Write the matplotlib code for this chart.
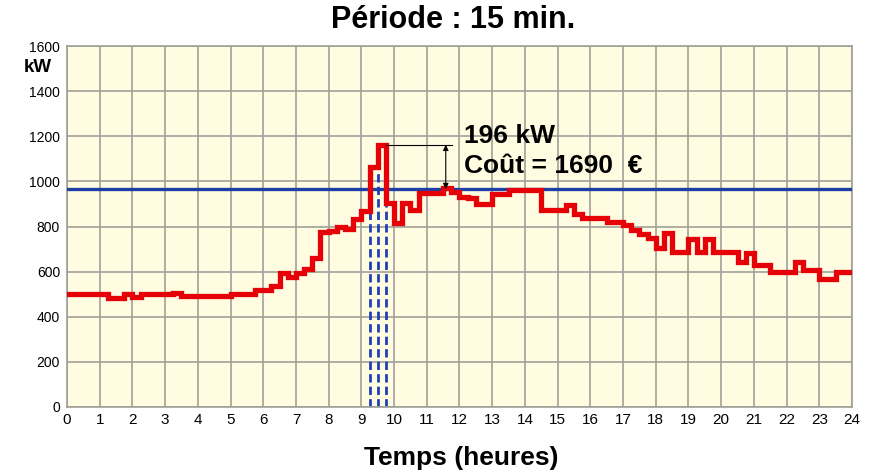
import numpy as np
import matplotlib
matplotlib.use("Agg")
import matplotlib.pyplot as plt

plt.rcParams['font.family'] = ['Liberation Sans', 'DejaVu Sans']

# ---- data (15-minute demand, kW) ----
hours_ticks = list(range(0, 25))
kw_ticks = list(range(0, 1601, 200))

power_kw = [
    500, 500, 500, 500, 500, 485, 485, 500,   # 0.00 - 2.00
    488, 500, 500, 500, 500, 507, 490, 490,   # 2.00 - 4.00
    490, 490, 490, 490, 500, 500, 500, 518,   # 4.00 - 6.00
    518, 536, 594, 576, 592, 610, 660, 775,   # 6.00 - 8.00
    782, 800, 790, 835, 870, 1064, 1162, 905,  # 8.00 - 10.00
    815, 905, 875, 950, 950, 950, 972, 955,   # 10.00 - 12.00
    931, 926, 898, 898, 944, 944, 962, 962,   # 12.00 - 14.00
    962, 962, 875, 875, 875, 895, 855, 838,   # 14.00 - 16.00
    838, 838, 820, 820, 807, 785, 767, 750,   # 16.00 - 18.00
    705, 770, 685, 685, 745, 687, 745, 685,   # 18.00 - 20.00
    685, 685, 643, 683, 630, 630, 600, 600,   # 20.00 - 22.00
    600, 643, 607, 607, 567, 567, 598, 598,   # 22.00 - 24.00
]
subscribed_kw = 966
peak_kw = 1162
excess_kw = 196
cost_eur = 1690
overrun_bounds_h = [9.25, 9.5, 9.75]

# ---- figure ----
fig = plt.figure(figsize=(8.77, 4.72), dpi=100)
ax = fig.add_axes([67/877, 1-407/472, (852-67)/877, (407-46)/472])
ax.set_facecolor('#FFFCE1')

t = np.arange(len(power_kw) + 1) * 0.25
v = np.append(power_kw, power_kw[-1])

ax.set_xlim(0, 24)
ax.set_ylim(0, 1600)
ax.set_xticks(hours_ticks)
ax.set_yticks(kw_ticks)
ax.grid(True, color='#A0A098', linewidth=1.2, zorder=0)
ax.set_axisbelow(True)
ax.tick_params(axis='x', length=0, labelsize=11, pad=4)
ax.tick_params(axis='y', length=0, labelsize=10, pad=5)
for s in ax.spines.values():
    s.set_color('#A0A098')
    s.set_linewidth(1.2)

# dashed boundaries of the overrun
for b in overrun_bounds_h:
    i = int(round(b / 0.25))
    h = min(power_kw[i-1], power_kw[i])
    ax.plot([b, b], [0, h], color='#2040B8', lw=2.0, ls=(0, (3, 1.5)), zorder=2)

ax.axhline(subscribed_kw, color='#1E3FA6', lw=2.4, zorder=3)
ax.step(t, v, where='post', color='#E60008', lw=3.8, zorder=4,
        solid_joinstyle='miter')

# annotation of the overrun
ax.plot([9.75, 11.78], [peak_kw, peak_kw], color='black', lw=0.8, zorder=5)
ax.annotate('', xy=(11.58, subscribed_kw), xytext=(11.58, peak_kw),
            arrowprops=dict(arrowstyle='<|-|>', color='black', lw=0.8,
                            mutation_scale=8, shrinkA=0, shrinkB=0), zorder=5)
ax.text(12.15, peak_kw + 38, f'{excess_kw} kW', fontsize=19,
        fontweight='bold', va='center', ha='left', zorder=6)
ax.text(12.15, peak_kw - 92, f'Coût = {cost_eur}  €', fontsize=19,
        fontweight='bold', va='center', ha='left', zorder=6)

fig.text(453/877, 1-20/472, 'Période : 15 min.', fontsize=22,
         fontweight='bold', ha='center', va='center')
fig.text(461/877, 1-458/472, 'Temps (heures)', fontsize=19,
         fontweight='bold', ha='center', va='center')
fig.text(38/877, 1-67/472, 'kW', fontsize=13.5, fontweight='bold',
         ha='center', va='center')

fig.savefig('out.png', dpi=100)
